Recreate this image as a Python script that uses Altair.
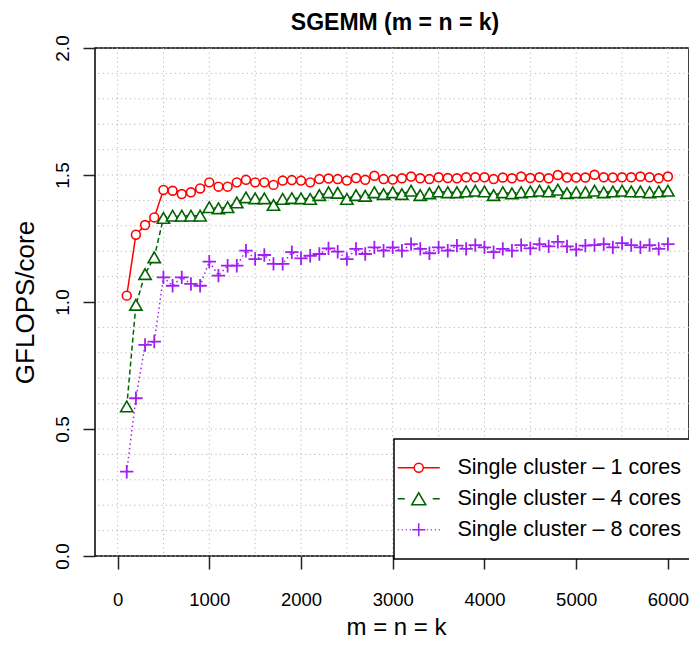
import altair as alt
import pandas as pd

# ---------------- data ----------------
sizes = [100, 200, 300, 400, 500, 600, 700, 800, 900, 1000,
         1100, 1200, 1300, 1400, 1500, 1600, 1700, 1800, 1900, 2000,
         2100, 2200, 2300, 2400, 2500, 2600, 2700, 2800, 2900, 3000,
         3100, 3200, 3300, 3400, 3500, 3600, 3700, 3800, 3900, 4000,
         4100, 4200, 4300, 4400, 4500, 4600, 4700, 4800, 4900, 5000,
         5100, 5200, 5300, 5400, 5500, 5600, 5700, 5800, 5900, 6000]

gflops_1core = [1.025, 1.265, 1.303, 1.333, 1.441, 1.438, 1.425, 1.432, 1.447, 1.471,
                1.454, 1.454, 1.471, 1.481, 1.471, 1.471, 1.461, 1.478, 1.480, 1.478,
                1.471, 1.484, 1.486, 1.484, 1.478, 1.488, 1.481, 1.497, 1.484, 1.482,
                1.487, 1.494, 1.487, 1.484, 1.491, 1.488, 1.487, 1.491, 1.491, 1.491,
                1.484, 1.490, 1.487, 1.494, 1.488, 1.491, 1.487, 1.500, 1.490, 1.490,
                1.490, 1.501, 1.491, 1.490, 1.491, 1.491, 1.494, 1.491, 1.487, 1.494]

gflops_4cores = [0.589, 0.989, 1.110, 1.176, 1.331, 1.340, 1.340, 1.340, 1.340, 1.373,
                 1.369, 1.373, 1.392, 1.412, 1.408, 1.408, 1.382, 1.406, 1.409, 1.408,
                 1.406, 1.421, 1.432, 1.430, 1.406, 1.421, 1.418, 1.432, 1.425, 1.432,
                 1.425, 1.438, 1.421, 1.428, 1.435, 1.432, 1.432, 1.435, 1.438, 1.435,
                 1.421, 1.432, 1.428, 1.432, 1.435, 1.438, 1.435, 1.442, 1.429, 1.432,
                 1.432, 1.438, 1.432, 1.435, 1.438, 1.435, 1.435, 1.432, 1.435, 1.438]

gflops_8cores = [0.332, 0.621, 0.831, 0.844, 1.097, 1.064, 1.097, 1.071, 1.064, 1.159,
                 1.104, 1.143, 1.143, 1.202, 1.169, 1.185, 1.150, 1.150, 1.196, 1.172,
                 1.182, 1.189, 1.211, 1.198, 1.169, 1.209, 1.189, 1.215, 1.202, 1.215,
                 1.202, 1.228, 1.209, 1.192, 1.215, 1.202, 1.222, 1.209, 1.224, 1.215,
                 1.196, 1.209, 1.202, 1.224, 1.211, 1.228, 1.219, 1.237, 1.219, 1.206,
                 1.222, 1.224, 1.228, 1.215, 1.232, 1.224, 1.215, 1.224, 1.209, 1.228]

series_names = ["Single cluster \u2013 1 cores",
                "Single cluster \u2013 4 cores",
                "Single cluster \u2013 8 cores"]
series_values = [gflops_1core, gflops_4cores, gflops_8cores]

x_ticks = [0, 1000, 2000, 3000, 4000, 5000, 6000]
y_ticks = [0.0, 0.5, 1.0, 1.5, 2.0]
x_grid = [0, 500, 1000, 1500, 2000, 2500, 3000, 3500, 4000, 4500, 5000, 5500, 6000]
y_grid = [0.0, 0.1, 0.2, 0.3, 0.4, 0.5, 0.6, 0.7, 0.8, 0.9, 1.0,
          1.1, 1.2, 1.3, 1.4, 1.5, 1.6, 1.7, 1.8, 1.9, 2.0]

# ---------------- styling ----------------
colors = ["#FF0000", "#006400", "#A020F0"]
dashes = [[1, 0], [5, 3], [1.5, 3]]
point_shapes = ["circle", "triangle-up", "M-1,0H1M0,-1V1"]
point_sizes = [78, 150, 180]
point_strokes = [1.6, 1.6, 1.8]
legend_paths = [
    "M-4.2,0H-0.9M0.9,0H4.2M-0.9,0A0.9,0.9,0,1,1,0.9,0A0.9,0.9,0,1,1,-0.9,0",
    "M-4.2,0H-2.8M2.8,0H4.2M0,-1.2L-1.4,1.2L1.4,1.2Z",
    "M-4.2,0H-4.0M-3.4,0H-3.2M-2.6,0H-2.4M-1.8,0H-1.6"
    "M1.6,0H1.8M2.4,0H2.6M3.2,0H3.4M4.0,0H4.2M-1.3,0H1.3M0,-1.3V1.3",
]

FONT = "Liberation Sans, Arial, sans-serif"

rows = []
for name, vals in zip(series_names, series_values):
    for s, v in zip(sizes, vals):
        rows.append({"size": s, "gflops": v, "series": name})
df = pd.DataFrame(rows)
gx = pd.DataFrame({"gx": x_grid})
gy = pd.DataFrame({"gy": y_grid})

x_scale = alt.Scale(domain=[-246, 6230], nice=False, zero=False)
y_scale = alt.Scale(domain=[0, 2], nice=False, zero=False)

x_axis = alt.Axis(values=x_ticks, grid=False, domain=False, format="d",
                  tickSize=13, tickWidth=1.5, tickColor="#222222",
                  labelFont=FONT, labelFontSize=18.5, labelColor="black",
                  labelBaseline="alphabetic", labelPadding=36,
                  labelFlush=False, labelOverlap=False,
                  title="m = n = k", titleFont=FONT, titleFontSize=24,
                  titleFontWeight="normal", titleColor="black",
                  titleBaseline="alphabetic", titleY=78, titleX=301)
y_axis = alt.Axis(values=y_ticks, grid=False, domain=False, format=".1f",
                  tickSize=12, tickWidth=1.5, tickColor="#222222",
                  labelFont=FONT, labelFontSize=19, labelColor="black",
                  labelAngle=270, labelAlign="center", labelBaseline="alphabetic",
                  labelPadding=15, labelFlush=False, labelOverlap=False,
                  title="GFLOPS/core", titleFont=FONT, titleFontSize=26,
                  titleFontWeight="normal", titleColor="black",
                  titleAngle=270, titleAlign="center", titleBaseline="alphabetic",
                  titleX=-62, titleY=254)

X = alt.X("size:Q", scale=x_scale, axis=x_axis)
Y = alt.Y("gflops:Q", scale=y_scale, axis=y_axis)

grid_style = dict(color="#b8b8b8", strokeWidth=1, strokeDash=[1.2, 3.3])
layers = [
    alt.Chart(gx).mark_rule(**grid_style).encode(x=alt.X("gx:Q", scale=x_scale, axis=x_axis)),
    alt.Chart(gy).mark_rule(**grid_style).encode(y=alt.Y("gy:Q", scale=y_scale, axis=y_axis)),
]

for name, col, dash in zip(series_names, colors, dashes):
    layers.append(
        alt.Chart(df).transform_filter(alt.datum.series == name)
        .mark_line(color=col, strokeWidth=1.5, strokeDash=dash)
        .encode(x=X, y=Y, order="size:Q")
    )
for name, col, shp, sz, sw in zip(series_names, colors, point_shapes, point_sizes, point_strokes):
    layers.append(
        alt.Chart(df).transform_filter(alt.datum.series == name)
        .mark_point(shape=shp, size=sz, filled=False, fill="white", stroke=col,
                    strokeWidth=sw, opacity=1)
        .encode(x=X, y=Y)
    )

legend = alt.Legend(title=None, orient="none", legendX=299, legendY=391,
                    padding=18, fillColor="white", strokeColor="black",
                    labelFont=FONT, labelFontSize=21.5, labelColor="black",
                    labelLimit=600, labelOffset=28, symbolOffset=-4, rowPadding=8,
                    symbolSize=100, symbolStrokeWidth=1.5)

legend_layer = (
    alt.Chart(df).transform_filter("false")
    .mark_point(filled=False, size=100, strokeWidth=1.5, opacity=1)
    .encode(
        x=X, y=Y,
        stroke=alt.Stroke("series:N", scale=alt.Scale(domain=series_names, range=colors), legend=legend),
        shape=alt.Shape("series:N", scale=alt.Scale(domain=series_names, range=legend_paths), legend=legend),
    )
)
layers.append(legend_layer)

chart = (
    alt.layer(*layers)
    .properties(
        width=594, height=508,
        padding={"left": 87, "top": 40, "right": 0, "bottom": 84},
        autosize=alt.AutoSizeParams(type="none"),
        title=alt.TitleParams("SGEMM (m = n = k)", font=FONT, fontSize=23,
                              fontWeight="bold", color="black", anchor="middle",
                              orient="top", offset=0, dx=3),
        background="white",
    )
    .configure_view(stroke="black", strokeWidth=1.5)
    .configure_legend(strokeWidth=1.5)
)

chart.save("out.html", embed_options={"renderer": "svg", "actions": False})
